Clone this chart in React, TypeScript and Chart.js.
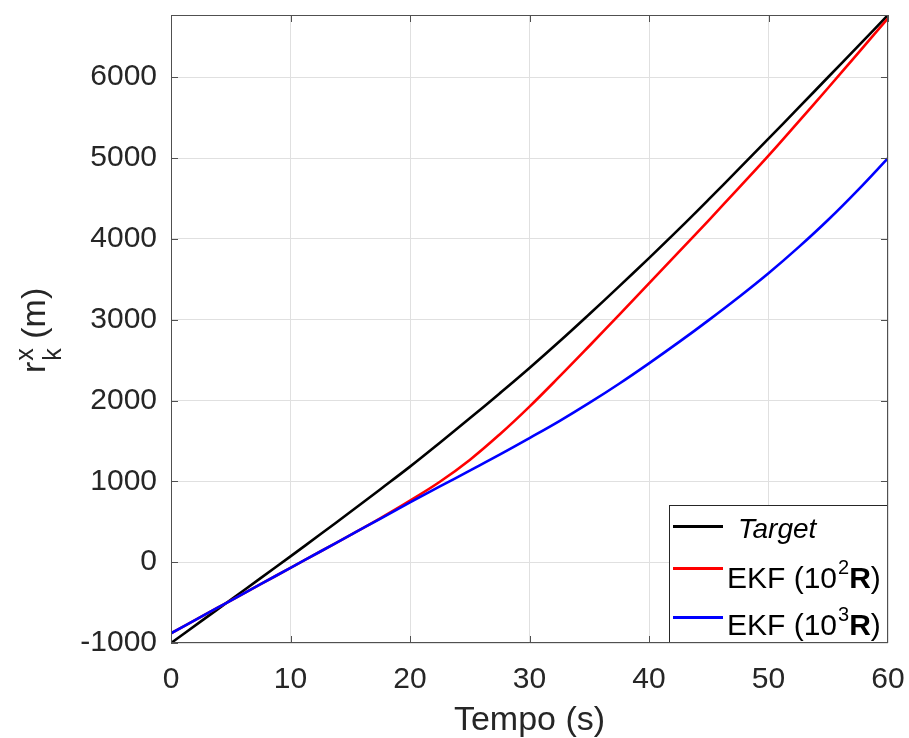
import React, { useEffect, useRef } from "react";
import { Chart, registerables } from "chart.js";

Chart.register(...registerables);

// Time samples (s)
const timeS = [
  0, 2.5, 5, 7.5, 10, 12.5, 15, 17.5, 20, 22.5, 25, 27.5, 30,
  32.5, 35, 37.5, 40, 42.5, 45, 47.5, 50, 52.5, 55, 57.5, 60,
];
// True x-position of the target (m)
const target = [
  -1000, -733, -465, -197, 72, 345, 620, 900, 1182, 1478, 1780, 2088, 2403,
  2730, 3068, 3412, 3762, 4120, 4488, 4862, 5240, 5620, 6003, 6385, 6770,
];
// EKF estimate with 10^2 R measurement noise (m)
const ekf1e2R = [
  -880, -677, -475, -272, -70, 132, 335, 543, 762, 995, 1265, 1580, 1925,
  2295, 2675, 3060, 3450, 3838, 4230, 4628, 5030, 5448, 5870, 6298, 6730,
];
// EKF estimate with 10^3 R measurement noise (m)
const ekf1e3R = [
  -880, -677, -475, -272, -70, 132, 335, 537, 740, 937, 1133, 1330, 1535,
  1745, 1970, 2208, 2460, 2722, 2995, 3278, 3575, 3895, 4237, 4607, 5000,
];

const xTicks = [0, 10, 20, 30, 40, 50, 60];
const yTicks = [-1000, 0, 1000, 2000, 3000, 4000, 5000, 6000];
const xRange = [0, 60];
const yRange = [-1000, 6770];

const FONT = '"Liberation Sans", Arial, Helvetica, sans-serif';
const TEXT = "#262626";
const AXIS = "#505050";

const pts = (ys: number[]) => timeS.map((t, i) => ({ x: t, y: ys[i] }));

const decor = {
  id: "decor",
  afterDatasetsDraw(chart: any) {
    const { ctx, chartArea: a, scales } = chart;
    const xs = scales.x;
    const ys = scales.y;
    ctx.save();

    // legend box in the lower-right corner
    const bw = 219;
    const bh = 138;
    const bx = a.right - bw;
    const by = a.bottom - bh;
    ctx.fillStyle = "#ffffff";
    ctx.fillRect(bx, by, bw, bh);
    ctx.strokeStyle = "#262626";
    ctx.lineWidth = 1;
    ctx.strokeRect(bx + 0.5, by + 0.5, bw - 1, bh - 1);

    const entryLine = (color: string, y: number) => {
      ctx.strokeStyle = color;
      ctx.lineWidth = 3;
      ctx.beginPath();
      ctx.moveTo(bx + 4, y);
      ctx.lineTo(bx + 54, y);
      ctx.stroke();
    };
    entryLine("#000000", by + 21.5);
    entryLine("#ff0000", by + 63.5);
    entryLine("#0000ff", by + 112.5);

    ctx.fillStyle = "#000000";
    ctx.textBaseline = "alphabetic";
    ctx.textAlign = "left";
    ctx.font = `italic 28px ${FONT}`;
    ctx.fillText("Target", bx + 69, by + 32.5);

    const ekfLabel = (exp: string, baseY: number) => {
      let x = bx + 58;
      ctx.font = `30px ${FONT}`;
      ctx.fillText("EKF (10", x, baseY);
      x += ctx.measureText("EKF (10").width;
      ctx.font = `20px ${FONT}`;
      ctx.fillText(exp, x + 1, baseY - 14);
      x += ctx.measureText(exp).width + 1;
      ctx.font = `bold 30px ${FONT}`;
      ctx.fillText("R", x, baseY);
      x += ctx.measureText("R").width;
      ctx.font = `30px ${FONT}`;
      ctx.fillText(")", x, baseY);
    };
    ekfLabel("2", by + 82.5);
    ekfLabel("3", by + 130);

    // axes box
    ctx.strokeStyle = AXIS;
    ctx.lineWidth = 1;
    ctx.strokeRect(a.left + 0.5, a.top + 0.5, a.right - a.left - 1, a.bottom - a.top - 1);

    // inward tick marks on all four sides
    const tl = 7;
    ctx.beginPath();
    yTicks.forEach((v) => {
      const y = Math.round(ys.getPixelForValue(v)) + 0.5;
      ctx.moveTo(a.left, y);
      ctx.lineTo(a.left + tl, y);
      if (y < by) {
        ctx.moveTo(a.right, y);
        ctx.lineTo(a.right - tl, y);
      }
    });
    xTicks.forEach((v) => {
      const x = Math.round(xs.getPixelForValue(v)) + 0.5;
      if (x < bx) {
        ctx.moveTo(x, a.bottom);
        ctx.lineTo(x, a.bottom - tl);
      }
      ctx.moveTo(x, a.top);
      ctx.lineTo(x, a.top + tl);
    });
    ctx.stroke();

    // x-axis title
    ctx.fillStyle = TEXT;
    ctx.font = `34px ${FONT}`;
    ctx.textAlign = "center";
    ctx.fillText("Tempo (s)", (a.left + a.right) / 2, 730);

    // y-axis title: r with subscript k and superscript x, then unit
    ctx.save();
    ctx.translate(45, 373);
    ctx.rotate(-Math.PI / 2);
    ctx.textAlign = "left";
    let x = 0;
    ctx.font = `34px ${FONT}`;
    ctx.fillText("r", x, 0);
    x += ctx.measureText("r").width;
    ctx.font = `25px ${FONT}`;
    ctx.fillText("x", x + 1, -12);
    ctx.fillText("k", x + 1, 16);
    x += Math.max(ctx.measureText("x").width, ctx.measureText("k").width) + 1;
    ctx.font = `34px ${FONT}`;
    ctx.fillText(" (m)", x, 0);
    ctx.restore();

    ctx.restore();
  },
};

const fixBox = (w: number | null, h: number | null) => (s: any) => {
  if (w !== null) s.width = w;
  if (h !== null) s.height = h;
  s.paddingTop = 0;
  s.paddingBottom = 0;
  s.paddingLeft = 0;
  s.paddingRight = 0;
};

export default function App() {
  const ref = useRef<HTMLCanvasElement>(null);

  useEffect(() => {
    if (!ref.current) return;
    Chart.defaults.font.family = FONT;
    const line = (label: string, values: number[], color: string, order: number) => ({
      label,
      data: pts(values),
      borderColor: color,
      borderWidth: 2.6,
      pointRadius: 0,
      tension: 0.4,
      order,
    });
    const chart = new Chart(ref.current, {
      type: "line",
      data: {
        datasets: [
          line("Target", target, "#000000", 3),
          line("EKF (10²R)", ekf1e2R, "#ff0000", 2),
          line("EKF (10³R)", ekf1e3R, "#0000ff", 1),
        ],
      },
      options: {
        animation: false,
        responsive: false,
        devicePixelRatio: 1,
        layout: { padding: { left: 0, right: 21, top: 15, bottom: 0 } },
        plugins: { legend: { display: false }, tooltip: { enabled: false } },
        scales: {
          x: {
            type: "linear",
            min: xRange[0],
            max: xRange[1],
            afterBuildTicks: (s: any) => {
              s.ticks = xTicks.map((v) => ({ value: v }));
            },
            afterFit: fixBox(null, 95),
            ticks: {
              font: { size: 30 },
              color: TEXT,
              padding: 19,
              maxRotation: 0,
              autoSkip: false,
              callback: (v: any) => String(v),
            },
            grid: { color: "#e0e0e0", lineWidth: 1, drawTicks: false },
            border: { display: false },
          },
          y: {
            type: "linear",
            min: yRange[0],
            max: yRange[1],
            afterBuildTicks: (s: any) => {
              s.ticks = yTicks.map((v) => ({ value: v }));
            },
            afterFit: fixBox(171, null),
            ticks: {
              font: { size: 30 },
              color: TEXT,
              padding: 14,
              autoSkip: false,
              callback: (v: any) => String(v),
            },
            grid: { color: "#e0e0e0", lineWidth: 1, drawTicks: false },
            border: { display: false },
          },
        },
      },
      plugins: [decor],
    });
    return () => chart.destroy();
  }, []);

  return (
    <div style={{ position: "fixed", left: 0, top: 0, width: 909, height: 738, background: "#ffffff" }}>
      <canvas ref={ref} width={909} height={738} style={{ display: "block" }} />
    </div>
  );
}
